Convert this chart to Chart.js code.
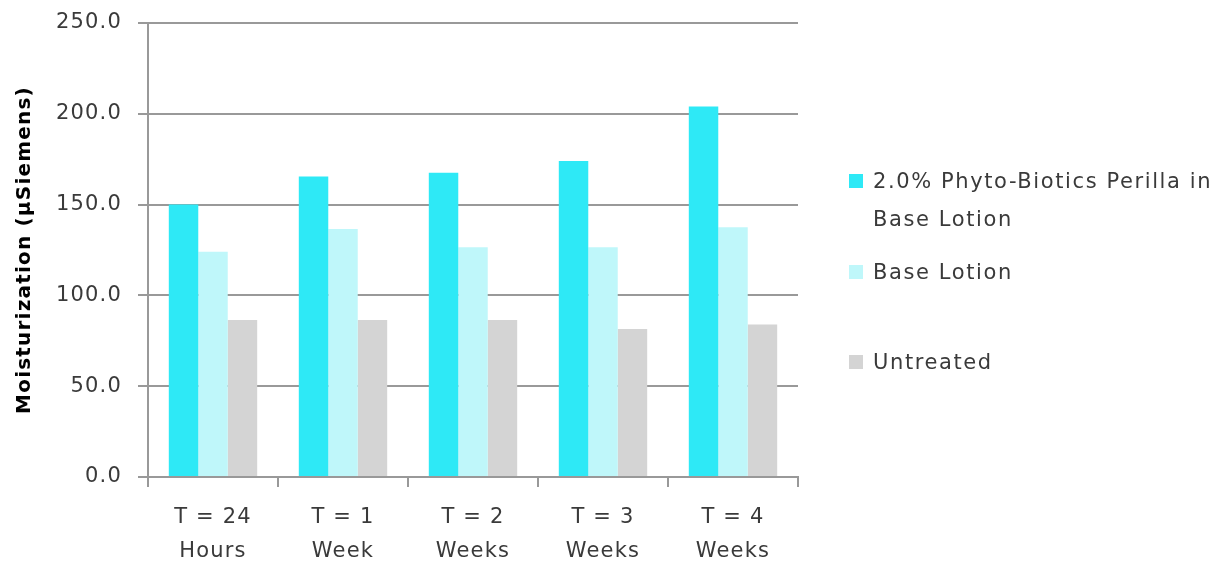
<!DOCTYPE html>
<html>
<head>
<meta charset="utf-8">
<script src="https://cdn.jsdelivr.net/npm/chart.js@4"></script>
<style>
    html, body { margin: 0; padding: 0; background: #fff; }
    #wrap { position: relative; width: 1229px; height: 564px; }
    #legend { position: absolute; left: 849px; top: 0; font-family: "DejaVu Sans", sans-serif; font-size: 21px; letter-spacing: 1.6px; color: #3a3a3a; }
    .item { position: absolute; left: 0; width: 380px; line-height: 38px; }
    .box { position: absolute; left: 0; top: 12px; width: 14px; height: 14px; }
    .txt { position: absolute; left: 24px; width: 356px; }
</style>
</head>
<body>
<div id="wrap">
    <canvas id="chart" width="1229" height="564"></canvas>
    <div id="legend"></div>
</div>
<script>
const categories = [['T = 24', 'Hours'], ['T = 1', 'Week'], ['T = 2', 'Weeks'], ['T = 3', 'Weeks'], ['T = 4', 'Weeks']];
const seriesNames = ['2.0% Phyto-Biotics Perilla in Base Lotion', 'Base Lotion', 'Untreated'];
const perillaValues = [150.0, 165.5, 167.5, 174.0, 204.0];
const baseLotionValues = [124.0, 136.5, 126.5, 126.5, 137.5];
const untreatedValues = [86.5, 86.5, 86.5, 81.5, 84.0];
const yTicks = [0, 50, 100, 150, 200, 250];

const colors = ['#2ee9f6', '#bff7fa', '#d4d4d4'];
const gridColor = '#999999';
const fontFamily = '"DejaVu Sans", sans-serif';

// legend rows: top of each row (Excel-style spacing)
const legendTops = [162, 253, 343];

// the original text is a bit spaced out, canvas can do that too
const spacingPlugin = {
    id: 'spacing',
    beforeUpdate(chart) { chart.ctx.letterSpacing = '1.2px'; },
    beforeDraw(chart) { chart.ctx.letterSpacing = '1.2px'; }
};

const ctx = document.getElementById('chart').getContext('2d');
const chart = new Chart(ctx, {
    type: 'bar',
    data: {
        labels: categories,
        datasets: [
            { label: seriesNames[0], data: perillaValues, backgroundColor: colors[0] },
            { label: seriesNames[1], data: baseLotionValues, backgroundColor: colors[1] },
            { label: seriesNames[2], data: untreatedValues, backgroundColor: colors[2] }
        ]
    },
    plugins: [spacingPlugin],
    options: {
        responsive: false,
        animation: false,
        datasets: {
            bar: { categoryPercentage: 0.68, barPercentage: 1.0 }
        },
        layout: {
            padding: { left: 0, right: 431, top: 23, bottom: 0 }
        },
        plugins: {
            legend: { display: false },
            tooltip: { enabled: false }
        },
        scales: {
            x: {
                grid: {
                    display: true,
                    drawOnChartArea: false,
                    drawTicks: true,
                    tickLength: 10,
                    color: gridColor,
                    lineWidth: 2
                },
                border: { display: true, color: gridColor, width: 2 },
                ticks: {
                    color: '#3a3a3a',
                    padding: 14,
                    maxRotation: 0,
                    font: { family: fontFamily, size: 21, lineHeight: 1.62 }
                },
                afterFit: function(scale) { scale.height = 87; }
            },
            y: {
                min: 0,
                max: 250,
                afterBuildTicks: function(scale) {
                    scale.ticks = yTicks.map(v => ({ value: v }));
                },
                grid: {
                    color: gridColor,
                    lineWidth: 2,
                    tickLength: 10
                },
                border: { display: true, color: gridColor, width: 2 },
                ticks: {
                    color: '#3a3a3a',
                    padding: 16,
                    font: { family: fontFamily, size: 21 },
                    callback: function(value) { return value.toFixed(1); }
                },
                title: {
                    display: true,
                    text: 'Moisturization (µSiemens)',
                    color: '#000000',
                    padding: { top: 13, bottom: 0 },
                    font: { family: fontFamily, size: 20, weight: 'bold' }
                },
                afterFit: function(scale) {
                    scale.width = 148;
                    scale.paddingTop = 0;
                    scale.paddingBottom = 0;
                }
            }
        }
    }
});

// html legend so the long label wraps like the original
const legend = document.getElementById('legend');
chart.data.datasets.forEach((ds, i) => {
    const item = document.createElement('div');
    item.className = 'item';
    item.style.top = legendTops[i] + 'px';
    const box = document.createElement('div');
    box.className = 'box';
    box.style.background = ds.backgroundColor;
    const txt = document.createElement('div');
    txt.className = 'txt';
    txt.textContent = ds.label;
    item.appendChild(box);
    item.appendChild(txt);
    legend.appendChild(item);
});
</script>
</body>
</html>
